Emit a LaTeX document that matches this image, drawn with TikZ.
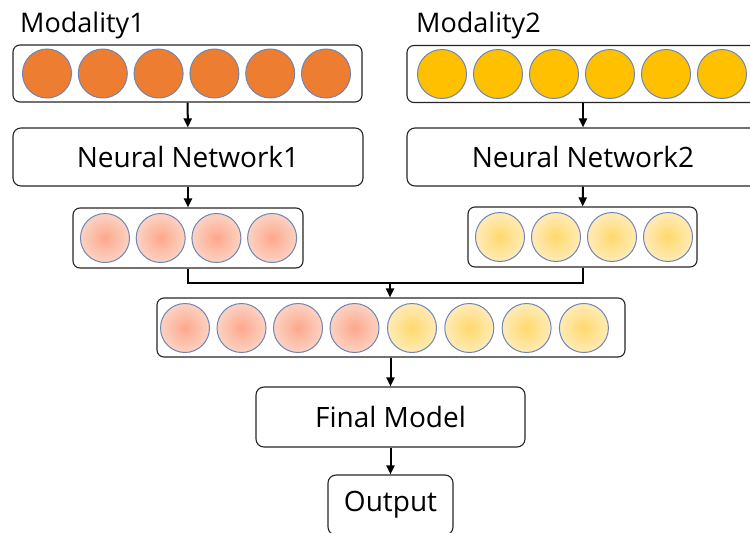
\documentclass[tikz,border=0pt]{standalone}
\usepackage{fontspec}
\setmainfont{Open Sans}
\usetikzlibrary{positioning,arrows.meta}

\definecolor{orangeunit}{HTML}{ED7D31}
\definecolor{goldunit}{HTML}{FFC000}
\definecolor{unitedge}{HTML}{6F86B4}
\definecolor{salmonin}{HTML}{FCA88C}
\definecolor{salmonout}{HTML}{FCD2C3}
\definecolor{yellowin}{HTML}{FFD96C}
\definecolor{yellowout}{HTML}{FFEBB8}

\begin{document}
\begin{tikzpicture}[
  x=1pt, y=-1pt,
  layer/.style={
    draw=black!85, line width=1.1pt, rounded corners=7pt,
    inner sep=0pt, fill=white,
  },
  block/.style={
    draw=black!85, line width=1.1pt, rounded corners=8pt,
    inner sep=0pt, fill=white, font=\fontsize{28}{32}\selectfont,
  },
  unit/.style={
    circle, draw=unitedge, line width=1pt,
    minimum size=49pt, inner sep=0pt,
  },
  title/.style={font=\fontsize{27}{30}\selectfont, anchor=base west, inner sep=0pt},
  link/.style={line width=2pt},
  flow/.style={-{Triangle[length=9pt,width=8pt]}, line width=2pt},
]
\useasboundingbox (0,0) rectangle (750,533);

\node[title] (mod1) at (20,32) {Modality1};
\node[title] (mod2) at (416,32) {Modality2};

% input layers
\node[layer, minimum width=349pt, minimum height=57pt] (in1) at (187.5,73.5) {};
\node[layer, minimum width=350pt, minimum height=57pt] (in2) at (582,74) {};
\foreach \i in {0,...,5} {
  \node[unit, fill=orangeunit] (a\i) at (47+55.8*\i,73.5) {};
  \node[unit, fill=goldunit] (b\i) at (442+56*\i,74) {};
}

% encoders
\node[block, minimum width=350pt, minimum height=58pt] (nn1) at (188,157) {Neural Network1};
\node[block, minimum width=352pt, minimum height=58pt] (nn2) at (583,157) {Neural Network2};

% embeddings
\node[layer, minimum width=230pt, minimum height=60pt] (emb1) at (188,238) {};
\node[layer, minimum width=229pt, minimum height=60pt] (emb2) at (582.5,237) {};
\foreach \i in {0,...,3} {
  \node[unit, inner color=salmonin, outer color=salmonout] (c\i) at (105+55.7*\i,238) {};
  \node[unit, inner color=yellowin, outer color=yellowout] (d\i) at (500+56*\i,237) {};
}

% fused vector
\node[layer, minimum width=468pt, minimum height=59pt] (fused) at (391,327.5) {};
\foreach \i in {0,...,3} {
  \node[unit, inner color=salmonin, outer color=salmonout] (e\i) at (185+56.5*\i,328) {};
  \node[unit, inner color=yellowin, outer color=yellowout] (f\i) at (412+57.3*\i,328) {};
}

\node[block, minimum width=269pt, minimum height=60pt] (final) at (390.5,417) {Final Model};
\node[block, minimum width=125pt, minimum height=60pt] (out) at (390.5,505) {Output};

\coordinate (merge) at (390,283);

\draw[flow] (in1) -- (nn1);
\draw[flow] (in2.south -| nn2) -- (nn2);
\draw[flow] (nn1) -- (emb1);
\draw[flow] (nn2) -- (emb2);
\draw[link] (emb1.south) |- (merge);
\draw[link] (emb2.south) |- (merge);
\draw[flow] (merge) -- (merge |- fused.north);
\draw[flow] (fused.south -| final) -- (final);
\draw[flow] (final) -- (out);

\end{tikzpicture}
\end{document}
